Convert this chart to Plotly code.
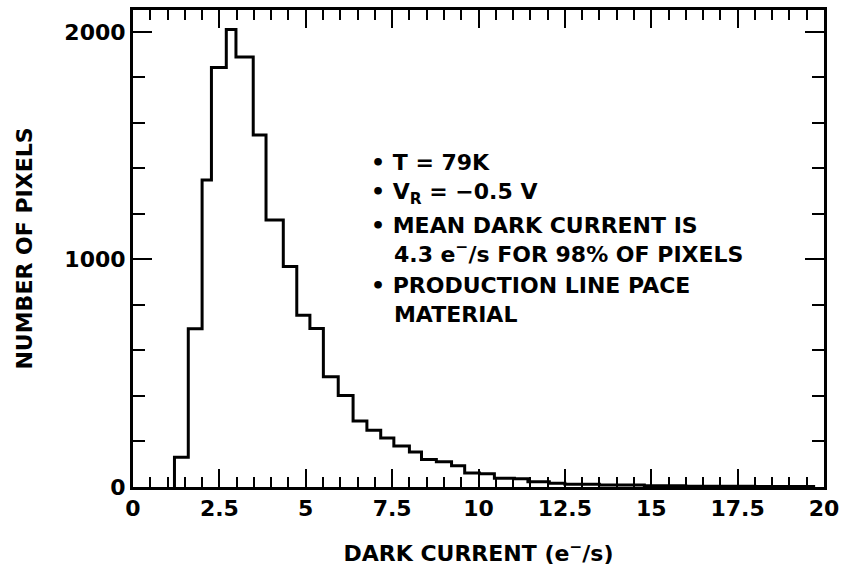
import plotly.graph_objects as go

# Histogram bin edges (e-/s) and counts (number of pixels)
bin_edges = [1.2, 1.6, 2.0, 2.27, 2.7, 2.98, 3.48, 3.85, 4.35, 4.74, 5.12, 5.51,
             5.94, 6.37, 6.77, 7.17, 7.55, 8.0, 8.35, 8.78, 9.22, 9.6, 10.03,
             10.46, 11.04, 11.43, 12.05, 12.5, 13.5, 14.8, 16.0, 18.0, 19.7]
counts = [131, 695, 1349, 1843, 2010, 1889, 1547, 1173, 969, 755, 697, 485,
          402, 290, 249, 215, 180, 154, 121, 111, 93, 62, 58,
          38, 36, 23, 16, 12, 9, 5, 3, 2]

x_tick_vals = [0, 2.5, 5, 7.5, 10, 12.5, 15, 17.5, 20]
x_tick_text = ["0", "2.5", "5", "7.5", "10", "12.5", "15", "17.5", "20"]
y_tick_vals = [0, 1000, 2000]
y_tick_text = ["0", "1000", "2000"]

IND = "\u00a0\u00a0\u00a0"
notes = [
    "• T = 79K",
    "• V<sub>R</sub> = −0.5 V",
    "• MEAN DARK CURRENT IS<br>" + IND + "4.3 e<sup>−</sup>/s FOR 98% OF PIXELS",
    "• PRODUCTION LINE PACE<br>" + IND + "MATERIAL",
]
note_x = [6.82, 6.82, 6.82, 6.82]
note_y = [1428, 1290, 1085, 820]

# step outline: start at baseline, rise at first edge, fall at last edge
xs = [bin_edges[0]] + bin_edges[:-1] + [bin_edges[-1]]
ys = [0] + counts + [0]

FONT = "DejaVu Sans"

fig = go.Figure()
fig.add_trace(go.Scatter(x=xs, y=ys, mode="lines", line=dict(shape="hv", color="black", width=3),
                         hoverinfo="skip", showlegend=False))

for t, xx, yy in zip(notes, note_x, note_y):
    fig.add_annotation(x=xx, y=yy, xref="x", yref="y", text=t, showarrow=False,
                       xanchor="left", yanchor="middle", align="left",
                       font=dict(family=FONT, size=22, color="black", weight="bold"))

fig.update_layout(
    width=846, height=571,
    margin=dict(l=133, r=16, t=7, b=84),
    paper_bgcolor="white", plot_bgcolor="white",
    showlegend=False,
)
fig.update_xaxes(
    range=[0, 20], tickvals=x_tick_vals, ticktext=x_tick_text,
    showline=True, linewidth=3, linecolor="black", mirror="ticks",
    ticks="inside", ticklen=18, tickwidth=2, tickcolor="black",
    minor=dict(tickvals=[i * 0.5 for i in range(41)], ticks="inside", ticklen=10, tickwidth=2, tickcolor="black"),
    showgrid=False, zeroline=False,
    tickfont=dict(family=FONT, size=22, color="black", weight="bold"),
    title=dict(text="DARK CURRENT (e<sup>−</sup>/s)", standoff=26,
               font=dict(family=FONT, size=22, color="black", weight="bold")),
)
fig.update_yaxes(
    range=[0, 2096], tickvals=y_tick_vals, ticktext=y_tick_text,
    showline=True, linewidth=3, linecolor="black", mirror="ticks",
    ticks="inside", ticklen=19, tickwidth=2, tickcolor="black",
    minor=dict(tickvals=[i * 200 for i in range(11)], ticks="inside", ticklen=12, tickwidth=2, tickcolor="black"),
    showgrid=False, zeroline=False,
    tickfont=dict(family=FONT, size=22, color="black", weight="bold"),
    title=dict(text="NUMBER OF PIXELS", standoff=26,
               font=dict(family=FONT, size=22, color="black", weight="bold")),
)

fig.write_html("out.html")
